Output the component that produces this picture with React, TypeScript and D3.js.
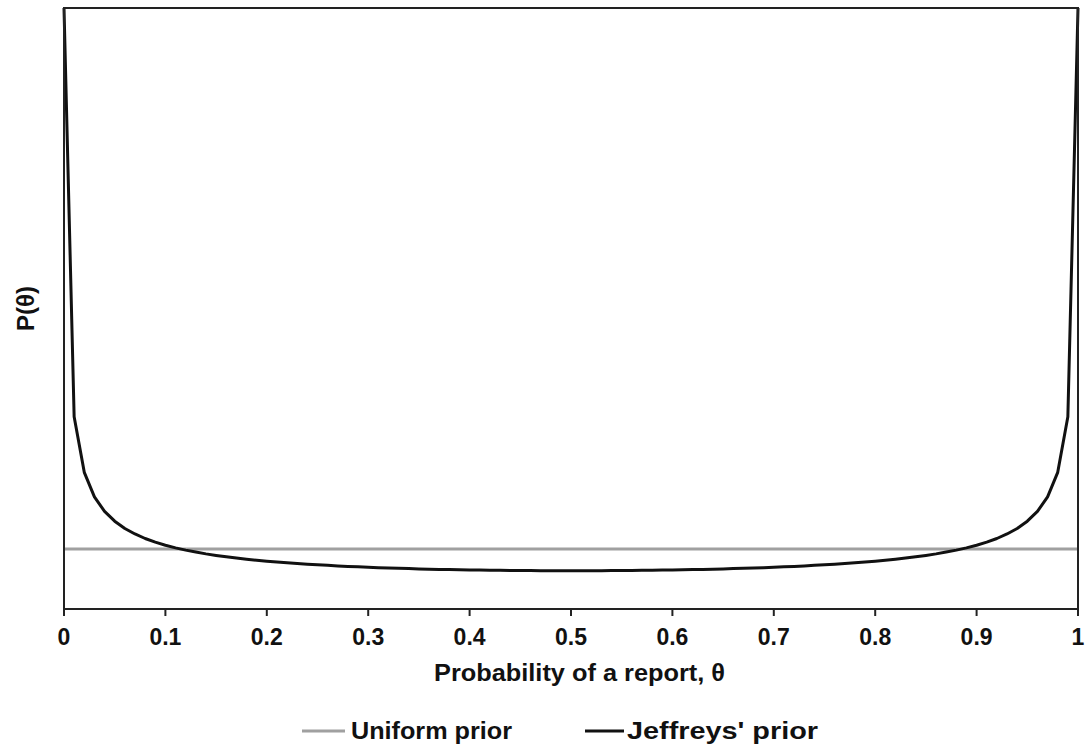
import React from "react";
import * as d3 from "d3";

// theta values (x categories), step 0.01
const theta = [
  0, 0.01, 0.02, 0.03, 0.04, 0.05, 0.06, 0.07, 0.08, 0.09,
  0.1, 0.11, 0.12, 0.13, 0.14, 0.15, 0.16, 0.17, 0.18, 0.19,
  0.2, 0.21, 0.22, 0.23, 0.24, 0.25, 0.26, 0.27, 0.28, 0.29,
  0.3, 0.31, 0.32, 0.33, 0.34, 0.35, 0.36, 0.37, 0.38, 0.39,
  0.4, 0.41, 0.42, 0.43, 0.44, 0.45, 0.46, 0.47, 0.48, 0.49,
  0.5, 0.51, 0.52, 0.53, 0.54, 0.55, 0.56, 0.57, 0.58, 0.59,
  0.6, 0.61, 0.62, 0.63, 0.64, 0.65, 0.66, 0.67, 0.68, 0.69,
  0.7, 0.71, 0.72, 0.73, 0.74, 0.75, 0.76, 0.77, 0.78, 0.79,
  0.8, 0.81, 0.82, 0.83, 0.84, 0.85, 0.86, 0.87, 0.88, 0.89,
  0.9, 0.91, 0.92, 0.93, 0.94, 0.95, 0.96, 0.97, 0.98, 0.99,
  1,
];

// Jeffreys' prior values (top end clipped at the frame)
const jeffreys = [
  10, 3.2, 2.274, 1.866, 1.624, 1.461, 1.34, 1.248, 1.173, 1.112,
  1.061, 1.017, 0.98, 0.947, 0.917, 0.891, 0.868, 0.847, 0.829, 0.811,
  0.796, 0.781, 0.768, 0.756, 0.745, 0.735, 0.726, 0.717, 0.709, 0.701,
  0.695, 0.688, 0.682, 0.677, 0.672, 0.667, 0.663, 0.659, 0.656, 0.653,
  0.65, 0.647, 0.645, 0.643, 0.641, 0.64, 0.639, 0.638, 0.637, 0.637,
  0.637, 0.637, 0.637, 0.638, 0.639, 0.64, 0.641, 0.643, 0.645, 0.647,
  0.65, 0.653, 0.656, 0.659, 0.663, 0.667, 0.672, 0.677, 0.682, 0.688,
  0.695, 0.701, 0.709, 0.717, 0.726, 0.735, 0.745, 0.756, 0.768, 0.781,
  0.796, 0.811, 0.829, 0.847, 0.868, 0.891, 0.917, 0.947, 0.98, 1.017,
  1.061, 1.112, 1.173, 1.248, 1.34, 1.461, 1.624, 1.866, 2.274, 3.2,
  10,
];

const uniformTheta = [0, 1];
const uniform = [1, 1];

const xTicks = [0, 0.1, 0.2, 0.3, 0.4, 0.5, 0.6, 0.7, 0.8, 0.9, 1];
const xTickLabels = ["0", "0.1", "0.2", "0.3", "0.4", "0.5", "0.6", "0.7", "0.8", "0.9", "1"];

const W = 1090;
const H = 749;
const margin = { top: 8, right: 12, bottom: 140, left: 64 };
const FONT = "'Liberation Sans', Arial, sans-serif";

export default function App() {
  const x = d3.scaleLinear().domain([0, 1]).range([margin.left, W - margin.right]);
  const y = d3.scaleLinear().domain([0, 10]).range([H - margin.bottom, margin.top]);

  const line = d3
    .line<number>()
    .x((_, i) => x(theta[i]))
    .y((d) => y(d));

  const uniLine = d3
    .line<number>()
    .x((_, i) => x(uniformTheta[i]))
    .y((d) => y(d));

  const x0 = x(0);
  const x1 = x(1);
  const yb = y(0);
  const yt = y(10);

  return (
    <svg
      width={W}
      height={H}
      style={{ position: "absolute", left: 0, top: 0, background: "#fff" }}
      fontFamily={FONT}
      fontWeight="bold"
    >
      <path d={uniLine(uniform) ?? ""} fill="none" stroke="#a0a0a0" strokeWidth={3} />
      <path d={line(jeffreys) ?? ""} fill="none" stroke="#111" strokeWidth={3} strokeLinejoin="round" />

      {/* frame */}
      <rect x={x0} y={yt} width={x1 - x0} height={yb - yt} fill="none" stroke="#222" strokeWidth={2} />

      {/* x ticks */}
      {xTicks.map((t, i) => (
        <g key={t} transform={`translate(${x(t)},${yb})`}>
          <line y1={0} y2={7} stroke="#222" strokeWidth={2} />
          <text y={36} textAnchor="middle" fontSize={23} fill="#111">
            {xTickLabels[i]}
          </text>
        </g>
      ))}

      <text x={434} y={681} fontSize={23} fill="#111" textLength={291} lengthAdjust="spacingAndGlyphs">
        Probability of a  report, θ
      </text>

      <text
        transform={`translate(34,${(yt + yb) / 2}) rotate(-90)`}
        textAnchor="middle"
        fontSize={24}
        fill="#111"
      >
        P(θ)
      </text>

      {/* legend */}
      <line x1={302} x2={345} y1={731} y2={731} stroke="#a0a0a0" strokeWidth={3} />
      <text x={351} y={739} fontSize={23} fill="#111" textLength={161} lengthAdjust="spacingAndGlyphs">
        Uniform prior
      </text>
      <line x1={585} x2={624} y1={731} y2={731} stroke="#111" strokeWidth={3} />
      <text x={627} y={739} fontSize={23} fill="#111" textLength={191} lengthAdjust="spacingAndGlyphs">
        Jeffreys' prior
      </text>
    </svg>
  );
}
